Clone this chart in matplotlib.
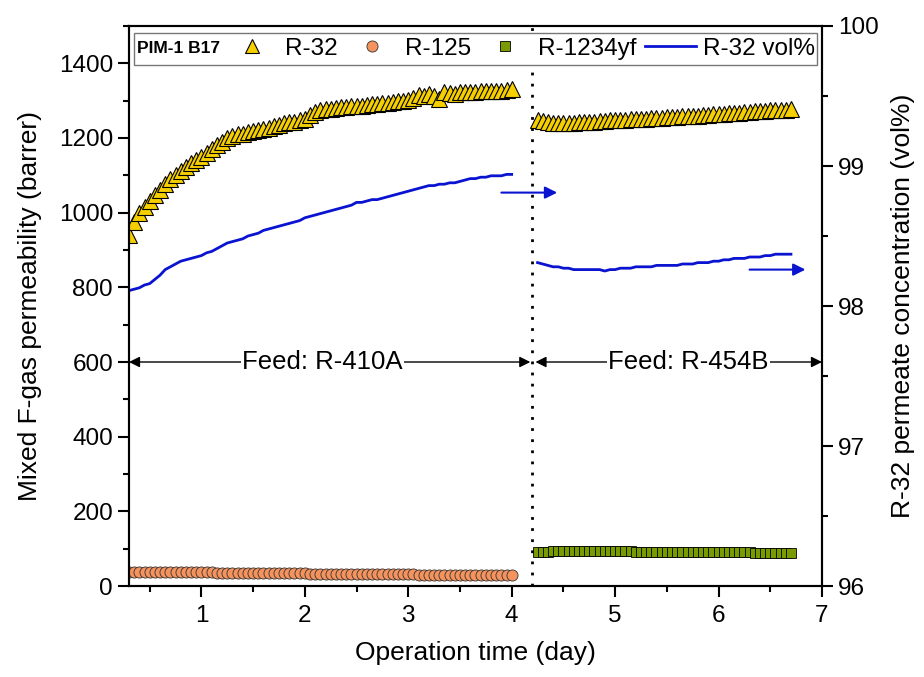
from matplotlib import pyplot as plt
from matplotlib.lines import Line2D
from matplotlib.patches import Rectangle
import matplotlib.ticker as plticker
import numpy as np

plt.rcParams['font.family'] = ['Liberation Sans', 'DejaVu Sans']

# operation time (day), R-410A feed and R-454B feed periods
t_410a = np.round(np.arange(0.30, 4.001, 0.05), 2)
t_454b = np.round(np.arange(4.25, 6.701, 0.05), 2)

# R-32 permeability (barrer), R-410A feed
r32_410a = [940, 975, 998, 1015, 1032, 1048, 1062, 1076, 1090, 1102, 1112, 1122, 1132, 1141, 1150,
            1160, 1170, 1180, 1190, 1200, 1206, 1210, 1212, 1215, 1218, 1221, 1225, 1228, 1232, 1235,
            1239, 1242, 1244, 1247, 1250, 1262, 1270, 1274, 1277, 1279, 1280, 1282, 1283, 1285, 1286,
            1287, 1289, 1290, 1292, 1293, 1295, 1296, 1298, 1300, 1302, 1308, 1316, 1313, 1318, 1312,
            1305, 1322, 1320, 1318, 1322, 1323, 1324, 1324, 1325, 1326, 1326, 1327, 1327, 1328, 1330]
# R-125 permeability (barrer), R-410A feed
r125_410a = [38.0, 38.0, 38.0, 38.0, 38.0, 37.8, 37.6, 37.5, 37.4, 37.2, 37.0, 37.0, 36.8, 36.7, 36.5,
             36.4, 36.2, 36.0, 35.9, 35.8, 35.6, 35.5, 35.3, 35.2, 35.0, 34.9, 34.7, 34.6, 34.4, 34.3,
             34.2, 34.0, 33.9, 33.7, 33.6, 33.5, 33.3, 33.2, 33.0, 32.9, 32.8, 32.6, 32.5, 32.4, 32.2,
             32.1, 32.0, 31.8, 31.7, 31.6, 31.5, 31.3, 31.2, 31.1, 31.0, 30.9, 30.8, 30.7, 30.6, 30.4,
             30.3, 30.2, 30.1, 30.0, 29.9, 29.8, 29.7, 29.6, 29.5, 29.4, 29.3, 29.2, 29.1, 29.0, 29.0]
# R-32 permeate concentration (vol%), R-410A feed
vol_410a = [98.11, 98.12, 98.13, 98.15, 98.16, 98.19, 98.22, 98.26, 98.28, 98.30, 98.32, 98.33, 98.34, 98.35, 98.36,
            98.38, 98.39, 98.41, 98.43, 98.45, 98.46, 98.47, 98.48, 98.50, 98.51, 98.52, 98.54, 98.55, 98.56, 98.57,
            98.58, 98.59, 98.60, 98.61, 98.63, 98.64, 98.65, 98.66, 98.67, 98.68, 98.69, 98.70, 98.71, 98.72, 98.74,
            98.74, 98.75, 98.76, 98.76, 98.77, 98.78, 98.79, 98.80, 98.81, 98.82, 98.83, 98.84, 98.85, 98.86, 98.86,
            98.87, 98.87, 98.88, 98.88, 98.89, 98.90, 98.91, 98.91, 98.92, 98.92, 98.93, 98.93, 98.93, 98.94, 98.94]

# R-32 permeability (barrer), R-454B feed
r32_454b = [1247, 1245, 1243, 1241, 1240, 1240, 1241, 1241, 1242, 1243,
            1243, 1244, 1245, 1246, 1247, 1247, 1248, 1249, 1250, 1250,
            1251, 1252, 1253, 1254, 1254, 1255, 1256, 1257, 1258, 1258,
            1259, 1260, 1261, 1262, 1263, 1264, 1265, 1266, 1267, 1268,
            1269, 1270, 1271, 1272, 1273, 1274, 1274, 1275, 1276, 1278]
# R-1234yf permeability (barrer), R-454B feed
r1234yf_454b = [91, 92, 92, 93, 93, 93, 93, 93, 93, 93,
                93, 93, 93, 93, 93, 93, 93, 93, 93, 92,
                92, 92, 92, 92, 92, 92, 92, 92, 92, 91,
                91, 91, 91, 91, 91, 90, 90, 90, 90, 90,
                90, 90, 89, 89, 89, 89, 89, 89, 89, 89]
# R-32 permeate concentration (vol%), R-454B feed
vol_454b = [98.31, 98.30, 98.29, 98.28, 98.28, 98.27, 98.27, 98.26, 98.26, 98.26,
            98.26, 98.26, 98.26, 98.25, 98.26, 98.26, 98.27, 98.27, 98.27, 98.28,
            98.28, 98.28, 98.28, 98.29, 98.29, 98.29, 98.29, 98.29, 98.30, 98.30,
            98.30, 98.31, 98.31, 98.31, 98.32, 98.32, 98.33, 98.33, 98.34, 98.34,
            98.34, 98.35, 98.35, 98.35, 98.36, 98.36, 98.37, 98.37, 98.37, 98.37]

switch_day = 4.2

c_r32 = '#F5CF00'
c_r125 = '#F4935E'
c_yf = '#7A9A01'
c_vol = '#0A14D0'

fig = plt.figure(figsize=(9.24, 6.77), dpi=100)
ax = fig.add_axes([0.1396, 0.1344, 0.75, 0.8272])
ax2 = ax.twinx()

ax.plot(t_410a, r32_410a, ls='none', marker='^', ms=11, mfc=c_r32, mec='black', mew=0.8)
ax.plot(t_454b, r32_454b, ls='none', marker='^', ms=11, mfc=c_r32, mec='black', mew=0.8)
ax.plot(t_410a, r125_410a, ls='none', marker='o', ms=8, mfc=c_r125, mec='#333333', mew=0.6)
ax.plot(t_454b, r1234yf_454b, ls='none', marker='s', ms=7, mfc=c_yf, mec='black', mew=0.6)
ax2.plot(t_410a, vol_410a, color=c_vol, lw=2)
ax2.plot(t_454b, vol_454b, color=c_vol, lw=2)

ax.axvline(switch_day, color='black', ls=(0, (1, 3)), lw=2)

# feed arrows
ax.annotate('', xy=(0.3, 600), xytext=(switch_day - 0.02, 600),
            arrowprops=dict(arrowstyle='<|-|>', color='black', lw=1, shrinkA=0, shrinkB=0, mutation_scale=16))
ax.annotate('', xy=(switch_day + 0.03, 600), xytext=(7.0, 600),
            arrowprops=dict(arrowstyle='<|-|>', color='black', lw=1, shrinkA=0, shrinkB=0, mutation_scale=16))
ax.text(2.17, 600, 'Feed: R-410A', ha='center', va='center', fontsize=18.5,
        bbox=dict(facecolor='white', edgecolor='none', pad=1))
ax.text(5.71, 600, 'Feed: R-454B', ha='center', va='center', fontsize=18.5,
        bbox=dict(facecolor='white', edgecolor='none', pad=1))

# blue arrows pointing at the right axis
ax2.annotate('', xy=(4.44, 98.81), xytext=(3.9, 98.81),
             arrowprops=dict(arrowstyle='-|>', color=c_vol, lw=1.5, shrinkA=0, shrinkB=0, mutation_scale=18))
ax2.annotate('', xy=(6.84, 98.26), xytext=(6.30, 98.26),
             arrowprops=dict(arrowstyle='-|>', color=c_vol, lw=1.5, shrinkA=0, shrinkB=0, mutation_scale=18))

ax.set_xlim(0.3, 7)
ax.set_ylim(0, 1500)
ax2.set_ylim(96, 100)

ax.xaxis.set_major_locator(plticker.MultipleLocator(1))
ax.xaxis.set_minor_locator(plticker.MultipleLocator(0.5))
ax.yaxis.set_major_locator(plticker.FixedLocator([0, 200, 400, 600, 800, 1000, 1200, 1400]))
ax.yaxis.set_minor_locator(plticker.MultipleLocator(100))
ax2.yaxis.set_major_locator(plticker.MultipleLocator(1))
ax2.yaxis.set_minor_locator(plticker.MultipleLocator(0.5))

for a in (ax, ax2):
    for s in a.spines.values():
        s.set_linewidth(1.5)
    a.tick_params(which='major', direction='out', length=8, width=1.5, labelsize=17.5)
    a.tick_params(which='minor', direction='out', length=4, width=1.5)
ax.tick_params(axis='x', pad=6)

ax.set_xlabel('Operation time (day)', fontsize=19, labelpad=10)
ax.set_ylabel('Mixed F-gas permeability (barrer)', fontsize=19, labelpad=12)
ax2.set_ylabel('R-32 permeate concentration (vol%)', fontsize=19, labelpad=9)

# legend box across the top
ax2.add_patch(Rectangle((0.007, 0.930), 0.986, 0.0575, transform=ax2.transAxes,
                        facecolor='white', edgecolor='#777777', lw=1, zorder=5))
ax2.text(0.0115, 0.959, 'PIM-1 B17', transform=ax2.transAxes, fontsize=12.5, fontweight='bold',
         ha='left', va='center', zorder=6)
handles = [Line2D([], [], ls='none', marker='^', ms=10, mfc=c_r32, mec='black', mew=0.8),
           Line2D([], [], ls='none', marker='o', ms=8, mfc=c_r125, mec='#333333', mew=0.6),
           Line2D([], [], ls='none', marker='s', ms=7, mfc=c_yf, mec='black', mew=0.6),
           Line2D([], [], color=c_vol, lw=2)]
leg = ax2.legend(handles, ['R-32', 'R-125', 'R-1234yf', 'R-32 vol%'], ncol=4, numpoints=1,
                 loc='center right', bbox_to_anchor=(0.99, 0.959), frameon=False, fontsize=17.5,
                 handlelength=2.1, handletextpad=0.3, columnspacing=0.35, borderpad=0, borderaxespad=0)
leg.set_zorder(7)

plt.savefig('out.png', dpi=100)
